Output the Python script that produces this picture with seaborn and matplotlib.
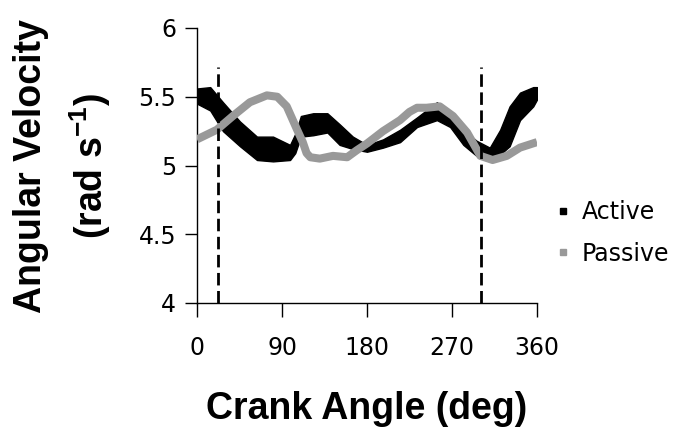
import matplotlib
matplotlib.use("Agg")
import matplotlib.pyplot as plt
from matplotlib.lines import Line2D
import seaborn as sns
import pandas as pd

# ---- data ----
active_angle = [0, 14, 27.5, 45.5, 63.5, 80.5, 98.5, 104, 110, 123, 138, 151, 165, 180,
                197, 215, 233, 254, 268, 282, 296, 310, 321, 331, 342, 356, 360]
active_upper = [5.56, 5.57, 5.46, 5.32, 5.21, 5.21, 5.15, 5.23, 5.36, 5.38, 5.38, 5.30, 5.21, 5.15,
                5.19, 5.26, 5.35, 5.46, 5.38, 5.26, 5.18, 5.13, 5.26, 5.43, 5.53, 5.57, 5.57]
active_lower = [5.45, 5.40, 5.25, 5.14, 5.04, 5.03, 5.04, 5.09, 5.21, 5.22, 5.24, 5.15, 5.12, 5.10,
                5.13, 5.17, 5.28, 5.33, 5.28, 5.15, 5.07, 5.07, 5.08, 5.14, 5.33, 5.43, 5.48]

passive_angle = [0, 21, 38, 56, 74, 85, 95, 106, 112, 116, 120, 130, 144, 159, 169, 180,
                 197, 215, 225, 233, 243, 257, 271, 286, 300, 313, 328, 342, 360]
passive_vel = [5.19, 5.26, 5.36, 5.46, 5.51, 5.50, 5.43, 5.26, 5.17, 5.09, 5.06, 5.05, 5.07, 5.06,
               5.11, 5.16, 5.25, 5.33, 5.39, 5.42, 5.42, 5.43, 5.36, 5.24, 5.07, 5.04, 5.07, 5.13, 5.17]

phase_angles = [22, 301]
phase_top = 5.72

x_ticks = [0, 90, 180, 270, 360]
y_ticks = [4, 4.5, 5, 5.5, 6]
y_tick_labels = ["4", "4.5", "5", "5.5", "6"]
series_names = ["Active", "Passive"]

# ---- style ----
sns.set_theme(style="ticks")
plt.rcParams["font.family"] = ["Liberation Sans", "DejaVu Sans"]
plt.rcParams["text.color"] = "black"
plt.rcParams["xtick.color"] = "black"
plt.rcParams["ytick.color"] = "black"
plt.rcParams["axes.labelcolor"] = "black"

ACTIVE_C = "#000000"
PASSIVE_C = "#999999"

fig = plt.figure(figsize=(6.8, 4.29), dpi=100)
ax = fig.add_axes([197 / 680, 1 - 303 / 429, 340 / 680, 275 / 429])

ax.fill_between(active_angle, active_lower, active_upper, color=ACTIVE_C, lw=1.0,
                edgecolor=ACTIVE_C, zorder=2)

passive_df = pd.DataFrame({"angle": passive_angle, "vel": passive_vel})
sns.lineplot(data=passive_df, x="angle", y="vel", color=PASSIVE_C, lw=5.8, ax=ax,
             zorder=3, solid_capstyle="butt")

for a in phase_angles:
    ax.plot([a, a], [4, phase_top], color="black", lw=2, dashes=(4.5, 2), zorder=4)

ax.set_xlim(0, 360)
ax.set_ylim(4, 6)
ax.set_xticks(x_ticks)
ax.set_yticks(y_ticks)
ax.set_yticklabels(y_tick_labels)
ax.tick_params(axis="x", direction="out", length=10, width=1, pad=14, labelsize=17,
               color="black", labelcolor="black")
ax.tick_params(axis="y", direction="out", length=9, width=1, pad=6, labelsize=17,
               color="black", labelcolor="black")
for lab in ax.get_xticklabels() + ax.get_yticklabels():
    lab.set_family(["DejaVu Sans"])
for s in ["top", "right"]:
    ax.spines[s].set_visible(False)
for s in ["left", "bottom"]:
    ax.spines[s].set_color("black")
    ax.spines[s].set_linewidth(1)

ax.set_xlabel("")
ax.set_ylabel("")
fig.text(367 / 680, 1 - 409 / 429, "Crank Angle (deg)", ha="center", va="center",
         fontsize=27, fontweight="bold", color="black",
         family=["Liberation Sans", "DejaVu Sans"])
fig.text(63 / 680, 1 - 166 / 429, "Angular Velocity\n(rad s$^{\\mathregular{-1}}$)",
         ha="center", va="center", rotation=90, fontsize=27, fontweight="bold",
         linespacing=1.5, color="black", family=["Liberation Sans", "DejaVu Sans"])

handles = [Line2D([], [], ls="none", marker="s", markersize=4.5, color=ACTIVE_C),
           Line2D([], [], ls="none", marker="s", markersize=4.5, color=PASSIVE_C)]
leg = fig.legend(handles, series_names, loc="upper left",
                 bbox_to_anchor=(544 / 680, 1 - 188 / 429), frameon=False,
                 borderpad=0, handlelength=0.6, handletextpad=0.5, labelspacing=0.75,
                 prop={"family": "DejaVu Sans", "size": 17})
for t in leg.get_texts():
    t.set_color("black")

fig.savefig("out.png", dpi=100)
